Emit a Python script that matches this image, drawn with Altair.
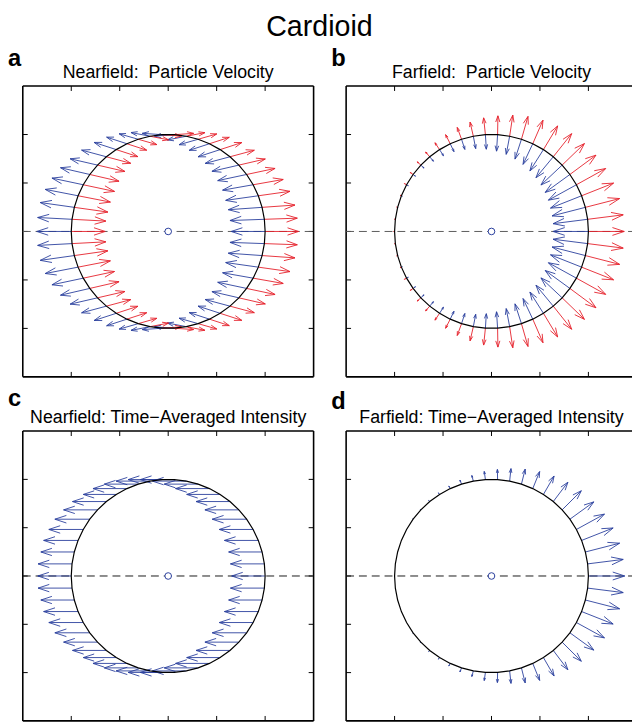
import math
import altair as alt
import pandas as pd

FONT = "Liberation Sans"
RED = "#e5202a"
BLUE = "#2a3f9d"

# arrow base positions on the circle (degrees, upper half; lower half is mirrored)
THETA_TOP = [0.0, 7.2, 14.4, 21.6, 28.8, 36.0, 43.2, 50.4, 57.6, 64.8, 72.0, 79.2, 86.4,
             93.6, 100.8, 108.0, 115.2, 122.4, 129.6, 136.8, 144.0, 151.2, 158.4, 165.6, 172.8, 180.0]
RADIUS = 2.0
TICKS = [-2, -1, 0, 1, 2]

# a: nearfield particle velocity (length, direction in degrees)
A_RED_LEN = [0.69, 0.68, 0.68, 0.66, 0.63, 0.60, 0.56, 0.52, 0.47, 0.43, 0.40, 0.39, 0.40,
             0.40, 0.39, 0.40, 0.43, 0.47, 0.52, 0.58, 0.62, 0.66, 0.68, 0.70, 0.70, 0.70]
A_RED_DIR = [0, 2, 4, 8, 10, 12, 13, 15, 18, 18, 16, 11, 4,
             -4, -11, -16, -18, -18, -15, -13, -13, -12, -11, -8, -3, 0]
A_BLUE_LEN = [0.70, 0.71, 0.70, 0.68, 0.64, 0.61, 0.57, 0.53, 0.48, 0.44, 0.41, 0.40, 0.41,
              0.41, 0.40, 0.41, 0.44, 0.48, 0.53, 0.58, 0.62, 0.66, 0.69, 0.71, 0.71, 0.71]
A_BLUE_DIR = [180, 182, 184, 188, 190, 192, 193, 195, 198, 198, 196, 191, 184,
              176, 169, 164, 162, 162, 165, 167, 167, 168, 169, 172, 177, 180]

# b: farfield particle velocity
B_RED_LEN = [0.74, 0.74, 0.73, 0.71, 0.69, 0.67, 0.64, 0.61, 0.57, 0.53, 0.49, 0.44, 0.39,
             0.35, 0.30, 0.26, 0.21, 0.17, 0.13, 0.10, 0.07, 0.05, 0.03, 0.02, 0.02, 0.02]
B_RED_DIR = [0, 7.2, 14.4, 21.6, 29, 36.5, 44, 51.5, 59, 66.5, 74, 81.5, 89,
             96, 103, 110, 117, 124, 131, 138, 145, 152, 159, 166, 173, 180]
B_BLUE_LEN = [0.73, 0.72, 0.71, 0.69, 0.66, 0.63, 0.60, 0.56, 0.52, 0.47, 0.43, 0.38, 0.34,
              0.30, 0.26, 0.22, 0.18, 0.15, 0.12, 0.09, 0.06, 0.04, 0.02, 0.01, 0.0, 0.0]
B_BLUE_DIR = [180, 187.2, 194.4, 201.6, 208.8, 216, 223.2, 230.4, 237.6, 244.8, 252, 259.2, 266.4,
              273.6, 280.8, 288, 295.2, 302.4, 309.6, 316.8, 324, 331.2, 338.4, 345.6, 352.8, 360]

# c: nearfield time-averaged intensity
C_LEN = [0.69, 0.70, 0.69, 0.70, 0.70, 0.71, 0.70, 0.70, 0.69, 0.70, 0.70, 0.70, 0.70,
         0.70, 0.70, 0.70, 0.70, 0.68, 0.70, 0.70, 0.72, 0.71, 0.71, 0.69, 0.70, 0.69]
C_DIR = [180, 180, 180, 180, 180, 180, 180, 180, 180, 180, 180, 180, 180,
         180, 180, 180, 180, 180, 180, 180, 180, 180, 180, 180, 180, 180]

# d: farfield time-averaged intensity
D_LEN = [0.75, 0.74, 0.73, 0.70, 0.66, 0.61, 0.56, 0.50, 0.44, 0.38, 0.32, 0.26, 0.21,
         0.17, 0.12, 0.09, 0.06, 0.04, 0.03, 0.02, 0.01, 0.0, 0.0, 0.0, 0.0, 0.0]
D_DIR = [0, 7.2, 14.4, 21.6, 28.8, 36, 45, 53, 60, 68, 76, 84, 91,
         98, 105, 112, 119, 126, 133, 140, 147, 154, 161, 168, 174, 180]

HEAD_BACK = 0.33
HEAD_WIDE = 0.33


def arrow_table(lengths, directions):
    rows = []
    for th, ln, dr in zip(THETA_TOP, lengths, directions):
        cases = [(th, dr)]
        if 0 < th < 180:
            cases.append((-th, -dr))
        for t, d in cases:
            if ln <= 0.004:
                continue
            x0 = RADIUS * math.cos(math.radians(t))
            y0 = RADIUS * math.sin(math.radians(t))
            u = ln * math.cos(math.radians(d))
            v = ln * math.sin(math.radians(d))
            x1, y1 = x0 + u, y0 + v
            rows.append(dict(x=x0, y=y0, x2=x1, y2=y1))
            rows.append(dict(x=x1, y=y1, x2=x1 - HEAD_BACK * (u + HEAD_WIDE * v),
                             y2=y1 - HEAD_BACK * (v - HEAD_WIDE * u)))
            rows.append(dict(x=x1, y=y1, x2=x1 - HEAD_BACK * (u - HEAD_WIDE * v),
                             y2=y1 - HEAD_BACK * (v + HEAD_WIDE * u)))
    return pd.DataFrame(rows)


def circle_table():
    angs = sorted(THETA_TOP + [360 - t for t in THETA_TOP if 0 < t < 180]) + [360.0]
    return pd.DataFrame({
        "i": list(range(len(angs))),
        "x": [RADIUS * math.cos(math.radians(a)) for a in angs],
        "y": [RADIUS * math.sin(math.radians(a)) for a in angs],
    })


def panel(width, height, xmax, title, letter, letter_y, series, dash_color, right_frame):
    xs = alt.Scale(domain=[-3, xmax], nice=False, zero=False)
    ys = alt.Scale(domain=[-3, 3], nice=False, zero=False)

    def ex(f):
        return alt.X(f, type="quantitative", scale=xs, axis=None)

    def ey(f):
        return alt.Y(f, type="quantitative", scale=ys, axis=None)

    frame_rows = [dict(x=-3, y=-3, x2=-3, y2=3), dict(x=-3, y=3, x2=xmax, y2=3),
                  dict(x=-3, y=-3, x2=xmax, y2=-3)]
    if right_frame:
        frame_rows.append(dict(x=xmax, y=-3, x2=xmax, y2=3))
    frame = alt.Chart(pd.DataFrame(frame_rows)).mark_rule(color="black", strokeWidth=1.6).encode(
        x=ex("x"), y=ey("y"), x2="x2:Q", y2="y2:Q")

    tdf = pd.DataFrame({"v": TICKS})
    ticks = [
        alt.Chart(tdf).mark_rule(color="black", strokeWidth=1).encode(
            x=ex("v"), y=alt.value(0), y2=alt.value(5)),
        alt.Chart(tdf).mark_rule(color="black", strokeWidth=1).encode(
            x=ex("v"), y=alt.value(height), y2=alt.value(height - 5)),
        alt.Chart(tdf).mark_rule(color="black", strokeWidth=1).encode(
            y=ey("v"), x=alt.value(0), x2=alt.value(5)),
    ]
    if right_frame:
        ticks.append(alt.Chart(tdf).mark_rule(color="black", strokeWidth=1).encode(
            y=ey("v"), x=alt.value(width), x2=alt.value(width - 5)))

    dash = alt.Chart(pd.DataFrame({"x": [-3], "x2": [xmax], "y": [0]})).mark_rule(
        color=dash_color, strokeWidth=1, strokeDash=[8, 5]).encode(x=ex("x"), x2="x2:Q", y=ey("y"))

    arrows = []
    for lens, dirs, color in series:
        arrows.append(alt.Chart(arrow_table(lens, dirs)).mark_rule(
            color=color, strokeWidth=0.9).encode(x=ex("x"), y=ey("y"), x2="x2:Q", y2="y2:Q"))

    circ = alt.Chart(circle_table()).mark_line(color="black", strokeWidth=1.2).encode(
        x=ex("x"), y=ey("y"), order="i:Q")

    center = alt.Chart(pd.DataFrame({"x": [0], "y": [0]})).mark_point(
        shape="circle", filled=True, fill="white", stroke=BLUE, strokeWidth=1,
        size=45, opacity=1).encode(x=ex("x"), y=ey("y"))

    lab = alt.Chart(pd.DataFrame({"t": [letter]})).mark_text(
        align="left", baseline="alphabetic", fontSize=24, fontWeight="bold", font=FONT,
        color="black").encode(x=alt.value(-15), y=alt.value(letter_y), text="t:N")

    ttl = alt.Chart(pd.DataFrame({"t": [title], "x": [0]})).mark_text(
        align="center", baseline="alphabetic", fontSize=18, font=FONT,
        color="black").encode(x=ex("x"), y=alt.value(-8), text="t:N")

    layers = [frame] + ticks + [dash] + arrows + [circ, center, lab, ttl]
    return alt.layer(*layers).properties(width=width, height=height)


pa = panel(295, 295, 3, "Nearfield:\u00a0 Particle Velocity", "a", -20,
           [(A_BLUE_LEN, A_BLUE_DIR, BLUE), (A_RED_LEN, A_RED_DIR, RED)], "#5a5a5a", True)
pb = panel(290, 295, 2.9, "Farfield:\u00a0 Particle Velocity", "b", -20,
           [(B_BLUE_LEN, B_BLUE_DIR, BLUE), (B_RED_LEN, B_RED_DIR, RED)], "#5a5a5a", False)
pc = panel(295, 294, 3, "Nearfield: Time\u2212Averaged Intensity", "c", -25,
           [(C_LEN, C_DIR, BLUE)], "#1a1a1a", True)
pd_ = panel(290, 294, 2.9, "Farfield: Time\u2212Averaged Intensity", "d", -22,
            [(D_LEN, D_DIR, BLUE)], "#1a1a1a", False)

chart = alt.concat(pa, pb, pc, pd_, columns=2, spacing={"row": 55, "column": 33},
                   bounds="flush").properties(
    title=alt.TitleParams("Cardioid", fontSize=29, font=FONT, fontWeight="normal",
                          color="black", anchor="middle", offset=6, dx=-1),
    padding={"left": 0, "right": 0, "top": 0, "bottom": 0},
).configure_view(stroke=None)

chart.save("out.html", embed_options={"renderer": "svg", "actions": False})
